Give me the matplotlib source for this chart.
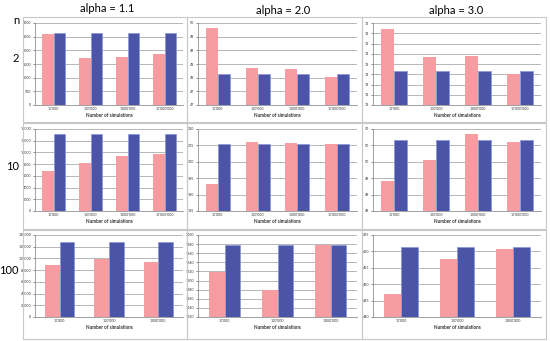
import matplotlib
matplotlib.use('Agg')
import matplotlib.pyplot as plt
import numpy as np
from matplotlib.patches import Rectangle

plt.rcParams['font.family'] = ['Lato', 'DejaVu Sans']

sims4 = ["10'000", "100'000", "1'000'000", "10'000'000"]
sims3 = ["10'000", "100'000", "1'000'000"]
alpha_titles = ['alpha = 1.1', 'alpha = 2.0', 'alpha = 3.0']
n_labels = ['2', '10', '100']

# n = 2
n2_a11_sim = [2597, 1730, 1767, 1877]
n2_a11_ref = [2650, 2650, 2650, 2650]
n2_a20_sim = [49.83, 48.37, 48.33, 48.04]
n2_a20_ref = [48.15, 48.15, 48.15, 48.15]
n2_a30_sim = [13.34, 13.07, 13.08, 12.90]
n2_a30_ref = [12.93, 12.93, 12.93, 12.93]

# n = 10
n10_a11_sim = [6760, 8240, 9430, 9660]
n10_a11_ref = [13150, 13150, 13150, 13150]
n10_a20_sim = [193.3, 205.9, 205.6, 205.5]
n10_a20_ref = [205.3, 205.3, 205.3, 205.3]
n10_a30_sim = [49.36, 49.62, 49.94, 49.84]
n10_a30_ref = [49.87, 49.87, 49.87, 49.87]

# n = 100
n100_a11_sim = [88800, 98300, 93800]
n100_a11_ref = [128500, 128500, 128500]
n100_a20_sim = [1919, 1879, 1978]
n100_a20_ref = [1977, 1977, 1977]
n100_a30_sim = [447.0, 457.8, 460.6]
n100_a30_ref = [461.2, 461.2, 461.2]

panels = [
    [(sims4, n2_a11_sim, n2_a11_ref, 0, 3000, 500, '{:.0f}'),
     (sims4, n2_a20_sim, n2_a20_ref, 47, 50, 0.5, 'int'),
     (sims4, n2_a30_sim, n2_a30_ref, 12.6, 13.4, 0.1, '{:.0f}')],
    [(sims4, n10_a11_sim, n10_a11_ref, 0, 14000, 2000, '{:.0f}'),
     (sims4, n10_a20_sim, n10_a20_ref, 185, 210, 5, '{:.0f}'),
     (sims4, n10_a30_sim, n10_a30_ref, 49, 50, 0.2, '{:.0f}')],
    [(sims3, n100_a11_sim, n100_a11_ref, 0, 140000, 20000, '{:.0f}'),
     (sims3, n100_a20_sim, n100_a20_ref, 1820, 2000, 20, '{:.0f}'),
     (sims3, n100_a30_sim, n100_a30_ref, 440, 465, 5, '{:.0f}')],
]

W, H = 550, 341
fig = plt.figure(figsize=(W / 100, H / 100), dpi=100)
fig.patch.set_facecolor('white')

pink = '#F59DA1'
blue = '#4A55A7'

box_x = [(23, 187), (187, 362), (362, 546)]
box_y = [(17, 122), (123, 229), (230, 339)]
ax_x = [(35, 183), (198, 357), (373, 541)]
ax_y = [(23, 105), (129, 211), (235, 317)]

for r in range(3):
    for c in range(3):
        bx0, bx1 = box_x[c]
        by0, by1 = box_y[r]
        fig.patches.append(Rectangle((bx0 / W, 1 - by1 / H), (bx1 - bx0) / W, (by1 - by0) / H,
                                     transform=fig.transFigure, fill=False,
                                     edgecolor='#C8C8C8', linewidth=0.8))
        l, rr = ax_x[c]
        t, b = ax_y[r]
        ax = fig.add_axes([l / W, 1 - b / H, (rr - l) / W, (b - t) / H])
        cats, sim, ref, y0, y1, step, fmt = panels[r][c]
        x = np.arange(len(cats))
        ax.bar(x - 0.15, sim, width=0.3, color=pink, zorder=3)
        ax.bar(x + 0.15, ref, width=0.3, color=blue, edgecolor='#8A96D8',
               linewidth=0.5, zorder=3)
        ax.set_xlim(-0.5, len(cats) - 0.5)
        ax.set_ylim(y0, y1)
        ticks = np.arange(y0, y1 + step / 2, step)
        ax.set_yticks(ticks)
        if fmt == 'int':
            ax.set_yticklabels([str(int(v)) for v in ticks])
        else:
            ax.set_yticklabels([fmt.format(v) for v in ticks])
        ax.set_xticks(x)
        ax.set_xticklabels(cats)
        ax.tick_params(labelsize=2.6, colors='#333333', length=1.5, width=0.4, pad=1.2)
        ax.tick_params(axis='x', length=0)
        ax.grid(axis='y', color='#9A9A9A', linewidth=0.5, zorder=0)
        for s in ['top', 'right']:
            ax.spines[s].set_visible(False)
        for s in ['left', 'bottom']:
            ax.spines[s].set_color('#909090')
            ax.spines[s].set_linewidth(0.6)
        ax.set_xlabel('Number of simulations', fontsize=3.3, fontweight='bold',
                      color='#333333', labelpad=2)

title_pos = [(107, 8), (283, 11), (456, 11)]
for (tx, ty), s in zip(title_pos, alpha_titles):
    fig.text(tx / W, 1 - ty / H, s, fontsize=8, ha='center', va='center')

fig.text(19 / W, 1 - 21 / H, 'n', fontsize=8, ha='right', va='center')
row_pos = [(19, 59), (19, 166), (19, 271)]
for (tx, ty), s in zip(row_pos, n_labels):
    fig.text(tx / W, 1 - ty / H, s, fontsize=8, ha='right', va='center')

fig.savefig('out.png', dpi=100)
